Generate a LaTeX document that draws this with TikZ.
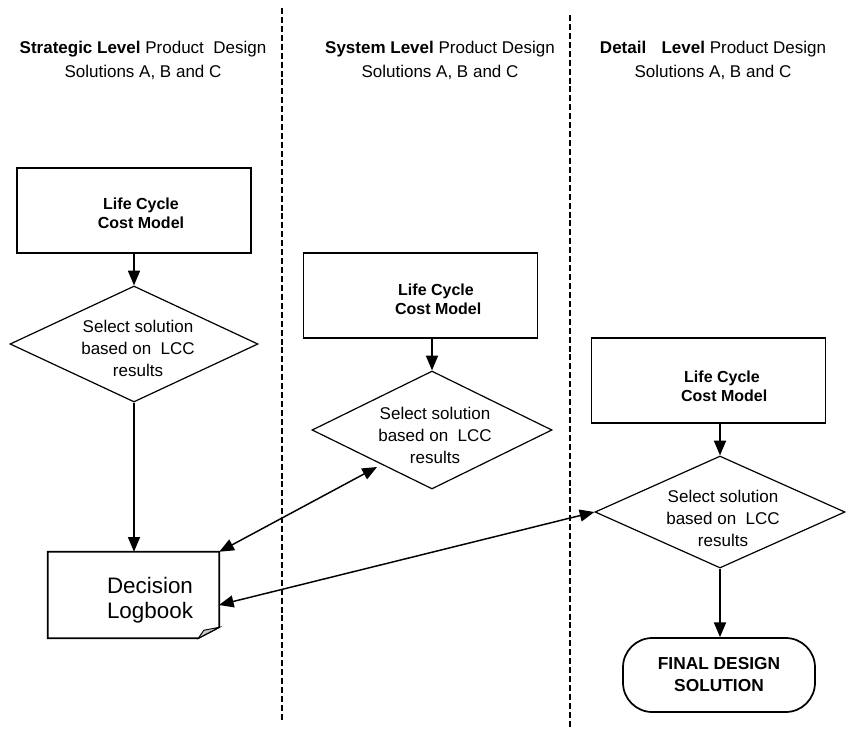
\documentclass[tikz,border=0pt]{standalone}
\usepackage{fontspec}
\setmainfont{Liberation Sans}
\usetikzlibrary{shapes.geometric,arrows.meta,calc}
\begin{document}
\begin{tikzpicture}[x=0.75pt,y=-0.75pt,
  box/.style={draw, line width=1.4pt, inner sep=0pt, minimum width=175.5pt, minimum height=63.75pt},
  dia/.style={draw, diamond, line width=0.9pt, inner sep=0pt},
  arr/.style={line width=1.1pt, -{Triangle[length=11pt,width=9pt]}},
  darr/.style={line width=1.1pt, {Triangle[length=11pt,width=9pt]}-{Triangle[length=11pt,width=9pt]}},
  sep/.style={line width=1.1pt, dash pattern=on 4.5pt off 2.2pt},
  boxtext/.style={font=\fontsize{12}{14}\selectfont\bfseries, align=center, inner sep=0pt},
  diatext/.style={font=\fontsize{12.75}{16.5}\selectfont, align=center, inner sep=0pt},
  head/.style={font=\fontsize{12.75}{18}\selectfont, align=center, inner sep=0pt},
  logtext/.style={font=\fontsize{16.8}{18.75}\selectfont, align=center, inner sep=0pt},
  fintext/.style={font=\fontsize{13}{16.5}\selectfont\bfseries, align=center}
]
\path[use as bounding box] (0,0) rectangle (850,729);

% headers
\node[head] (h1) at (143,60) {\textbf{Strategic Level} Product\ \ Design\\Solutions A, B and C};
\node[head] (h2) at (440,60) {\textbf{System Level} Product Design\\Solutions A, B and C};
\node[head] (h3) at (713,60) {\textbf{Detail}\hspace{0.9em}\textbf{Level} Product Design\\Solutions A, B and C};

% separators
\coordinate (s1t) at (282,8);
\coordinate (s1b) at (282,722);
\coordinate (s2t) at (570,15);
\coordinate (s2b) at (570,727);
\draw[sep] (s1t) -- (s1b);
\draw[sep] (s2t) -- (s2b);

% boxes
\node[box] (b1) at (134,210.5) {};
\node[box] (b2) at (420.5,295.5) {};
\node[box] (b3) at (708.5,380.5) {};
\node[boxtext] (t1) at (141,213.5) {Life Cycle\\Cost Model};
\node[boxtext] (t2) at (436,299) {Life Cycle\\\ Cost Model};
\node[boxtext] (t3) at (722,386) {Life Cycle\\\ Cost Model};

% diamonds
\node[dia, minimum width=186pt, minimum height=87pt, shape aspect=2.14] (d1) at (134,344) {};
\node[dia, minimum width=180pt, minimum height=88.5pt, shape aspect=2.03] (d2) at (432,430) {};
\node[dia, minimum width=187.5pt, minimum height=84pt, shape aspect=2.23] (d3) at (720,512) {};
\node[diatext] (e1) at (138,348) {Select solution\\based on\ \ LCC\\results};
\node[diatext] (e2) at (435,435.5) {Select solution\\based on\ \ LCC\\results};
\node[diatext] (e3) at (723,518) {Select solution\\based on\ \ LCC\\results};

% logbook
\node[minimum width=128.25pt, minimum height=64.5pt, inner sep=0pt] (lb) at (133.5,595) {};
\draw[line width=1.2pt] (lb.north west) -- (lb.north east) -- ($(lb.south east)+(0,-11)$)
  -- ($(lb.south east)+(-21,0)$) -- (lb.south west) -- cycle;
\filldraw[fill=black!22, draw=black, line width=0.7pt] ($(lb.south east)+(-21,0)$) -- ($(lb.south east)+(-15.5,-8)$) -- ($(lb.south east)+(0,-11)$) -- cycle;
\node[logtext] (lt) at (150,600) {Decision\\Logbook};

% final
\node[draw, line width=1.3pt, rounded corners=22pt, minimum width=144pt, minimum height=55.5pt, fintext] (fin) at (719,675) {FINAL DESIGN\\SOLUTION};

% arrows
\draw[arr] (b1.south) -- (d1.north);
\draw[arr] (b2.south -| d2.north) -- (d2.north);
\draw[arr] (b3.south -| d3.north) -- (d3.north);
\draw[arr] (d1.south) -- (lb.north -| d1.south);
\draw[arr] (d3.south) -- (fin.north -| d3.south);

\coordinate (a2) at (377,467);
\coordinate (l3) at (219,605);
\draw[darr] (lb.north east) -- (a2);
\draw[darr] (l3) -- (d3.west);
\end{tikzpicture}
\end{document}
